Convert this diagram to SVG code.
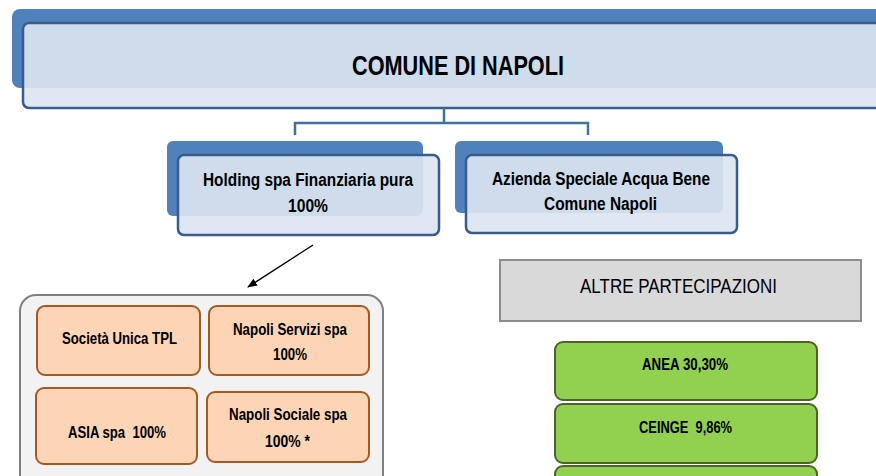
<svg xmlns="http://www.w3.org/2000/svg" width="876" height="476" viewBox="0 0 876 476">
<defs>
<style>
.t{font-family:"Liberation Sans",Arial,sans-serif;fill:#000;text-anchor:middle}
.b{font-weight:bold}
.back{fill:#4f81bd}
.front{fill:#dbe5f1;fill-opacity:0.9;stroke:#385d8a;stroke-width:2.5}
.org{fill:#fbd5b5;stroke:#a5591f;stroke-width:2}
.grn{fill:#92d050;stroke:#4f6228;stroke-width:2}
.conn{fill:none;stroke:#41719c;stroke-width:2.5}
</style>
<marker id="ah" markerWidth="10" markerHeight="8" refX="9" refY="4" orient="auto" markerUnits="userSpaceOnUse">
<path d="M0,0 L10,4 L0,8 Z" fill="#000"/>
</marker>
</defs>
<rect width="876" height="476" fill="#fff"/>

<g id="comune">
<rect class="back" x="12" y="9" width="880" height="79" rx="8"/>
<rect class="front" x="23" y="23" width="870" height="85" rx="6"/>
<text class="t b" x="458" y="75" font-size="28" textLength="212" lengthAdjust="spacingAndGlyphs">COMUNE DI NAPOLI</text>
</g>

<g id="connectors">
<path class="conn" d="M444,108 V123 M295,135 V123 H588 V135"/>
<line x1="313" y1="245" x2="248" y2="287" stroke="#000" stroke-width="1.3" marker-end="url(#ah)"/>
</g>

<g id="holding">
<rect class="back" x="167" y="141" width="256" height="75" rx="6"/>
<rect class="front" x="178" y="155" width="261" height="80" rx="6"/>
<text class="t b" x="308" y="186" font-size="18" textLength="210" lengthAdjust="spacingAndGlyphs">Holding spa Finanziaria pura</text>
<text class="t b" x="308" y="212" font-size="18" textLength="40" lengthAdjust="spacingAndGlyphs">100%</text>
</g>

<g id="azienda">
<rect class="back" x="455" y="141" width="268" height="72" rx="6"/>
<rect class="front" x="466" y="155" width="271" height="78" rx="6"/>
<text class="t b" x="601" y="185" font-size="18" textLength="218" lengthAdjust="spacingAndGlyphs">Azienda Speciale Acqua Bene</text>
<text class="t b" x="600.5" y="210" font-size="18" textLength="113" lengthAdjust="spacingAndGlyphs">Comune Napoli</text>
</g>

<g id="gruppo">
<rect x="20" y="295" width="363" height="200" rx="16" fill="#f2f2f2" stroke="#7f7f7f" stroke-width="2"/>
</g>

<g id="tpl">
<rect class="org" x="37" y="306" width="163" height="69" rx="8"/>
<text class="t b" x="119.5" y="344" font-size="16.5" textLength="115" lengthAdjust="spacingAndGlyphs">Società Unica TPL</text>
</g>
<g id="servizi">
<rect class="org" x="209" y="306" width="160" height="69" rx="8"/>
<text class="t b" x="290" y="335" font-size="16.5" textLength="114" lengthAdjust="spacingAndGlyphs">Napoli Servizi spa</text>
<text class="t b" x="290" y="360" font-size="16.5" textLength="34" lengthAdjust="spacingAndGlyphs">100%</text>
</g>
<g id="asia">
<rect class="org" x="36" y="388" width="161" height="76" rx="8"/>
<text class="t b" x="117" y="438" font-size="16.5" xml:space="preserve" textLength="98" lengthAdjust="spacingAndGlyphs">ASIA spa  100%</text>
</g>
<g id="sociale">
<rect class="org" x="207" y="392" width="162" height="70" rx="8"/>
<text class="t b" x="288" y="420" font-size="16.5" textLength="118" lengthAdjust="spacingAndGlyphs">Napoli Sociale spa</text>
<text class="t b" x="287.5" y="447" font-size="16.5" textLength="45" lengthAdjust="spacingAndGlyphs">100% *</text>
</g>

<g id="altre">
<rect x="500" y="260" width="361" height="61" fill="#d9d9d9" stroke="#8c8c8c" stroke-width="2"/>
<text class="t" x="678.5" y="293" font-size="21" textLength="197" lengthAdjust="spacingAndGlyphs">ALTRE PARTECIPAZIONI</text>
</g>

<g id="anea">
<rect class="grn" x="555" y="342" width="262" height="58" rx="8"/>
<text class="t b" x="685" y="370" font-size="16.5" textLength="86" lengthAdjust="spacingAndGlyphs">ANEA 30,30%</text>
</g>
<g id="ceinge">
<rect class="grn" x="555" y="404" width="262" height="59" rx="8"/>
<text class="t b" x="685.5" y="433" font-size="16.5" xml:space="preserve" textLength="93" lengthAdjust="spacingAndGlyphs">CEINGE  9,86%</text>
</g>
<g id="terza">
<rect class="grn" x="555" y="466" width="262" height="40" rx="8"/>
</g>
</svg>
